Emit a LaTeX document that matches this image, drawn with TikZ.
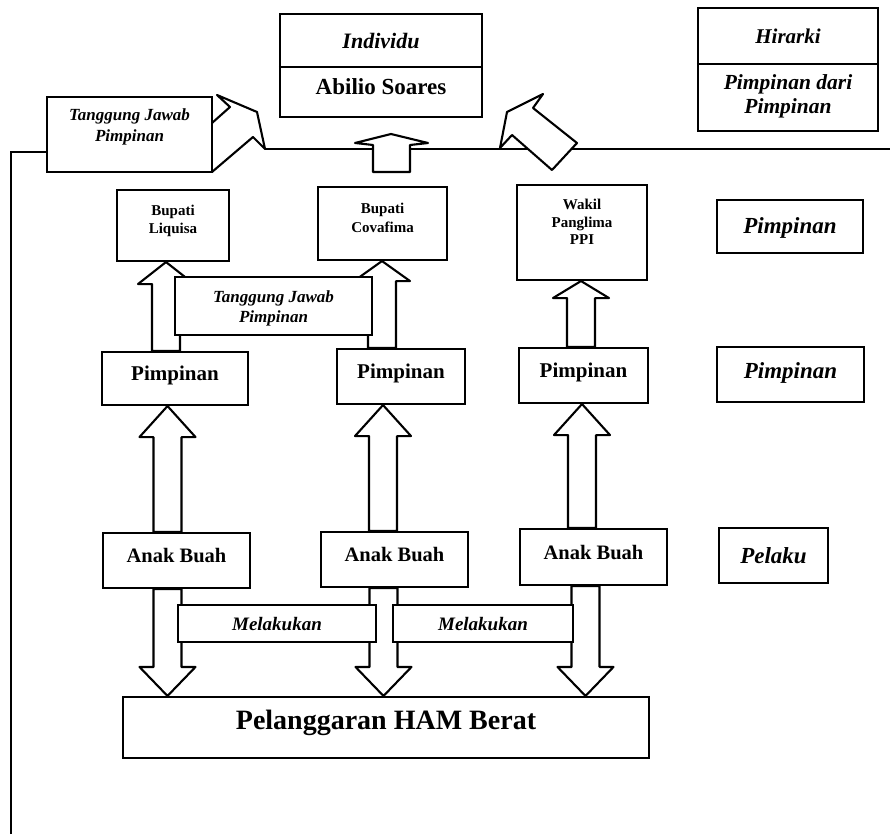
\documentclass[tikz,border=0pt]{standalone}
\usepackage{fontspec}
\setmainfont{Liberation Serif}
\usetikzlibrary{calc,backgrounds}
\tikzset{
  boxn/.style={draw, line width=2.1pt, fill=white, inner sep=0pt},
  lbl/.style={inner sep=0pt, align=center},
  tB/.style 2 args={font=\bfseries\fontsize{#1}{#2}\selectfont},
  tI/.style 2 args={font=\bfseries\itshape\fontsize{#1}{#2}\selectfont},
  arr/.style={draw, line width=2.1pt, fill=white, line join=round},
  ln/.style={line width=2.1pt}
}
\newcommand{\rbox}[5]{\node[boxn, minimum width={(#3-(#2))*1pt}, minimum height={(#5-(#4))*1pt}] (#1) at ({(#2+#3)/2},{(#4+#5)/2}) {};}
\newcommand{\uparr}[3]{\draw[arr] let \p1=(#1), \p2=(#2) in (\x1-14pt,\y1) -- (\x1-14pt,\y2-#3) -- (\x1-28pt,\y2-#3) -- (\x1,\y2) -- (\x1+28pt,\y2-#3) -- (\x1+14pt,\y2-#3) -- (\x1+14pt,\y1) -- cycle;}
\newcommand{\dnarr}[3]{\draw[arr] let \p1=(#1), \p2=(#2) in (\x1-14pt,\y1) -- (\x1-14pt,\y2+#3) -- (\x1-28pt,\y2+#3) -- (\x1,\y2) -- (\x1+28pt,\y2+#3) -- (\x1+14pt,\y2+#3) -- (\x1+14pt,\y1) -- cycle;}
\begin{document}
\begin{tikzpicture}[x=1pt,y=-1pt]
\useasboundingbox (0,0) rectangle (890,834);

% top row
\rbox{indiv}{280}{482}{14}{117}
\draw[ln] ($(indiv.north west)+(0,54)$) -- ($(indiv.north east)+(0,54)$);
\node[lbl,tI={22}{26}] (tind) at (381,41) {Individu};
\node[lbl,tB={23}{27}] (tabi) at (381,87) {Abilio Soares};

\rbox{hir}{698}{878}{8}{131}
\draw[ln] ($(hir.north west)+(0,57)$) -- ($(hir.north east)+(0,57)$);
\node[lbl,tI={21}{24}] (thir) at (788,36) {Hirarki};
\node[lbl,tI={21.5}{24}] (tpdp) at (788,96) {Pimpinan dari\\Pimpinan};

\rbox{tjt}{47}{212}{97}{172}
\node[lbl,tI={17}{21}] (ttjt) at (129.5,127) {Tanggung Jawab\\Pimpinan};

% second row
\rbox{bup1}{117}{229}{190}{261}
\node[lbl,tB={15}{18.5}] (tbup1) at (173,221) {Bupati\\Liquisa};
\rbox{bup2}{318}{447}{187}{260}
\node[lbl,tB={15}{18.5}] (tbup2) at (382.5,218) {Bupati\\Covafima};
\rbox{wak}{517}{647}{185}{280}
\node[lbl,tB={15}{17.5}] (twak) at (582,222) {Wakil\\Panglima\\PPI};
\rbox{rp1}{717}{863}{200}{253}
\node[lbl,tI={23}{26}] (trp1) at (790,228) {Pimpinan};

\rbox{tjm}{175}{372}{277}{335}
\node[lbl,tI={17}{20}] (ttjm) at (273.5,308) {Tanggung Jawab\\Pimpinan};

% third row
\rbox{pim1}{102}{248}{352}{405}
\node[lbl,tB={21}{24}] (tpim1) at (175,375) {Pimpinan};
\rbox{pim2}{337}{465}{349}{404}
\node[lbl,tB={21}{24}] (tpim2) at (401,373) {Pimpinan};
\rbox{pim3}{519}{648}{348}{403}
\node[lbl,tB={21}{24}] (tpim3) at (583.5,372) {Pimpinan};
\rbox{rp2}{717}{864}{347}{402}
\node[lbl,tI={23}{26}] (trp2) at (790.5,373) {Pimpinan};

% fourth row
\rbox{ab1}{103}{250}{533}{588}
\node[lbl,tB={20.5}{24}] (tab1) at (176.5,556) {Anak Buah};
\rbox{ab2}{321}{468}{532}{587}
\node[lbl,tB={20.5}{24}] (tab2) at (394.5,555) {Anak Buah};
\rbox{ab3}{520}{667}{529}{585}
\node[lbl,tB={20.5}{24}] (tab3) at (593.5,553) {Anak Buah};
\rbox{pel}{719}{828}{528}{583}
\node[lbl,tI={23}{26}] (tpel) at (773.5,556) {Pelaku};

\rbox{mel1}{178}{376}{605}{642}
\node[lbl,tI={19}{22}] (tmel1) at (277,624) {Melakukan};
\rbox{mel2}{393}{573}{605}{642}
\node[lbl,tI={19}{22}] (tmel2) at (483,624) {Melakukan};

\rbox{pha}{123}{649}{697}{758}
\node[lbl,tB={28}{32}] (tpha) at (386,723) {Pelanggaran HAM Berat};

\begin{scope}[on background layer]
  \fill[white] (0,0) rectangle (890,834);
  \coordinate (lcorner) at (11,152);
  \coordinate (lbot) at (11,834);
  \draw[ln] (lbot) -- (lcorner) -- (tjt.west |- lcorner);
  \coordinate (d1tip) at (265,149);
  \coordinate (rend) at (890,149);
  \draw[ln] (d1tip) -- (rend);
  % block arrows into the top line
  \draw[arr] (194,139) -- (230,107) -- (217,95) -- (257,112) -- (d1tip) -- (253,137) -- (212,172) -- (200,168) -- cycle;
  \draw[arr] (373,172) -- (373,145) -- (355,143) -- (391,134) -- (428,143) -- (410,145) -- (410,172) -- cycle;
  \draw[arr] (500,148) -- (507,112) -- (543,94) -- (533,108) -- (577,143) -- (552,170) -- (512,135) -- cycle;
  % vertical block arrows
  \uparr{$(pim1.north)+(-9,0)$}{bup1.south}{22pt}
  \uparr{$(pim2.north)+(-19,0)$}{bup2.south}{20pt}
  \uparr{$(pim3.north)+(-2.5,0)$}{wak.south}{17pt}
  \uparr{$(ab1.north)+(-9,0)$}{pim1.south}{31pt}
  \uparr{$(ab2.north)+(-11.5,0)$}{pim2.south}{31pt}
  \uparr{$(ab3.north)+(-11.5,0)$}{pim3.south}{31pt}
  \dnarr{$(ab1.south)+(-9,0)$}{pha.north}{29pt}
  \dnarr{$(ab2.south)+(-11,0)$}{pha.north}{29pt}
  \dnarr{$(ab3.south)+(-8,0)$}{pha.north}{29pt}
\end{scope}
\end{tikzpicture}
\end{document}
